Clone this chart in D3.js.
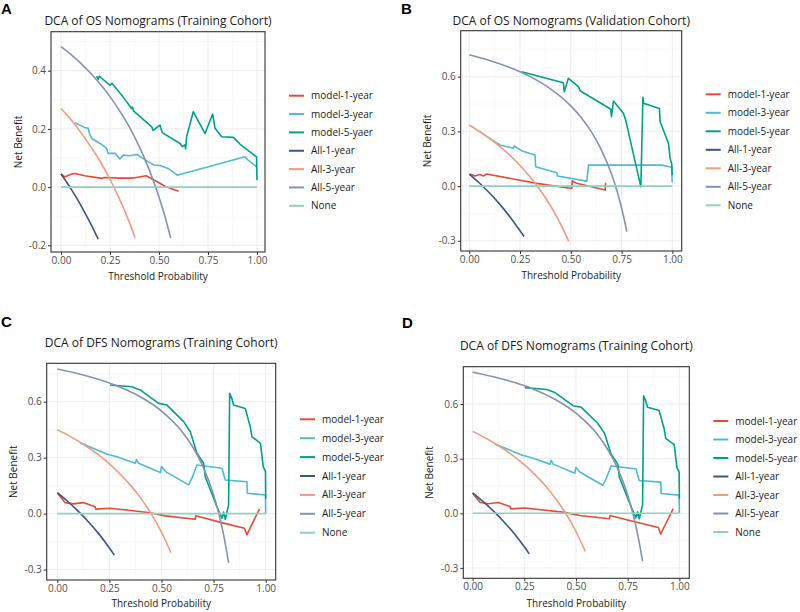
<!DOCTYPE html>
<html><head><meta charset="utf-8">
<script src="https://cdn.jsdelivr.net/npm/d3@7"></script>
<style>body{margin:0;background:#fff}svg{display:block;font-family:"Open Sans",sans-serif}</style>
</head><body><svg id="c" width="800" height="612"></svg>
<script>
// ---------- tick labels ----------
const xTickValues = [0, 0.25, 0.5, 0.75, 1];
const xTickLabels = ["0.00", "0.25", "0.50", "0.75", "1.00"];
const yTicksA = [-0.2, 0, 0.2, 0.4];
const yTickLabelsA = ["-0.2", "0.0", "0.2", "0.4"];
const yTicksBCD = [-0.3, 0, 0.3, 0.6];
const yTickLabelsBCD = ["-0.3", "0.0", "0.3", "0.6"];

// ---------- legend names ----------
const legendA = ["model-1-year", "model-3-year", "model-5-yaer", "All-1-year", "All-3-year", "All-5-year", "None"];
const legendBCD = ["model-1-year", "model-3-year", "model-5-year", "All-1-year", "All-3-year", "All-5-year", "None"];
const seriesColors = ["#E64B35", "#4DBBD5", "#00A087", "#3C5488", "#F39B7F", "#8491B4", "#91D1C2"];

// ---------- Panel A: OS, training cohort ----------
const osTrainModel1 = [[0,0.045],[0.02,0.035],[0.03,0.038],[0.055,0.045],[0.07,0.047],[0.12,0.039],[0.21,0.030],[0.22,0.033],[0.30,0.031],[0.37,0.031],[0.434,0.039],[0.47,0.026],[0.50,0.015],[0.53,0.003],[0.60,-0.014]];
const osTrainModel3 = [[0.071,0.221],[0.097,0.213],[0.12,0.205],[0.139,0.202],[0.145,0.185],[0.157,0.167],[0.199,0.150],[0.233,0.133],[0.24,0.116],[0.276,0.116],[0.30,0.097],[0.318,0.110],[0.35,0.108],[0.389,0.112],[0.437,0.090],[0.474,0.076],[0.505,0.074],[0.547,0.064],[0.593,0.041],[0.939,0.104],[0.95,0.095],[0.995,0.072],[1.0,0.066]];
const osTrainModel5 = [[0.182,0.381],[0.19,0.37],[0.195,0.381],[0.25,0.35],[0.26,0.357],[0.31,0.316],[0.36,0.27],[0.365,0.275],[0.37,0.262],[0.463,0.207],[0.47,0.195],[0.505,0.213],[0.517,0.187],[0.607,0.150],[0.62,0.139],[0.632,0.145],[0.636,0.131],[0.641,0.173],[0.675,0.259],[0.735,0.184],[0.774,0.251],[0.786,0.202],[0.82,0.173],[0.88,0.171],[0.913,0.148],[0.998,0.104],[1.0,0.024]];
const osTrainAll1 = [[0,0.045],[0.025,0.021],[0.05,-0.005],[0.075,-0.032],[0.10,-0.061],[0.125,-0.092],[0.15,-0.124],[0.175,-0.158],[0.19,-0.179]];
const osTrainAll3 = [[0,0.27],[0.05,0.232],[0.10,0.189],[0.15,0.141],[0.20,0.088],[0.25,0.027],[0.30,-0.043],[0.35,-0.123],[0.378,-0.174]];
const osTrainAll5 = [[0,0.483],[0.05,0.456],[0.10,0.426],[0.15,0.392],[0.20,0.354],[0.25,0.311],[0.30,0.261],[0.35,0.205],[0.40,0.138],[0.45,0.060],[0.50,-0.034],[0.53,-0.100],[0.56,-0.175]];
const osTrainNone = [[0,0],[1,0]];

// ---------- Panel B: OS, validation cohort ----------
const osValModel1 = [[0.003,0.066],[0.028,0.055],[0.053,0.064],[0.07,0.055],[0.086,0.066],[0.332,0.015],[0.505,-0.013],[0.507,0.029],[0.529,0.015],[0.669,-0.022],[0.671,0.018]];
const osValModel3 = [[0.05,0.30],[0.10,0.262],[0.151,0.225],[0.217,0.207],[0.222,0.220],[0.258,0.194],[0.299,0.179],[0.324,0.170],[0.327,0.106],[0.431,0.073],[0.434,0.055],[0.579,0.027],[0.587,0.115],[0.948,0.115],[0.997,0.103],[0.999,0.020]];
const osValModel5 = [[0.258,0.627],[0.463,0.567],[0.468,0.517],[0.488,0.591],[0.537,0.545],[0.546,0.523],[0.697,0.421],[0.70,0.380],[0.71,0.466],[0.759,0.399],[0.77,0.363],[0.845,-0.004],[0.855,0.487],[0.858,0.454],[0.936,0.426],[0.94,0.353],[0.981,0.234],[0.989,0.152],[0.997,0.12],[0.999,0.06]];
const osValAll1 = [[0,0.066],[0.05,0.017],[0.10,-0.038],[0.15,-0.099],[0.20,-0.168],[0.25,-0.245],[0.27,-0.276]];
const osValAll3 = [[0,0.335],[0.05,0.300],[0.10,0.261],[0.15,0.218],[0.20,0.169],[0.25,0.113],[0.30,0.050],[0.35,-0.023],[0.40,-0.108],[0.45,-0.209],[0.49,-0.304]];
const osValAll5 = [[0,0.72],[0.10,0.689],[0.20,0.65],[0.30,0.60],[0.40,0.533],[0.50,0.44],[0.55,0.378],[0.60,0.30],[0.65,0.20],[0.70,0.067],[0.73,-0.037],[0.76,-0.167],[0.776,-0.25]];
const osValNone = [[0,0],[1,0]];

// ---------- Panels C & D: DFS, training cohort ----------
const dfsModel1 = [[0,0.110],[0.037,0.059],[0.077,0.052],[0.125,0.059],[0.181,0.037],[0.185,0.024],[0.253,0.029],[0.446,0.005],[0.518,-0.012],[0.662,-0.030],[0.664,-0.012],[0.798,-0.051],[0.898,-0.078],[0.91,-0.114],[0.925,-0.078],[0.97,0.024]];
const dfsModel3 = [[0.109,0.38],[0.237,0.32],[0.286,0.305],[0.374,0.27],[0.38,0.29],[0.39,0.27],[0.494,0.22],[0.50,0.252],[0.52,0.225],[0.63,0.154],[0.646,0.19],[0.67,0.261],[0.79,0.243],[0.806,0.18],[0.91,0.171],[0.912,0.109],[0.999,0.100],[1.0,0.0]];
const dfsModel5 = [[0.253,0.69],[0.358,0.68],[0.398,0.663],[0.486,0.591],[0.526,0.582],[0.606,0.493],[0.638,0.439],[0.67,0.324],[0.702,0.27],[0.71,0.198],[0.766,0.037],[0.79,-0.025],[0.798,0.008],[0.806,-0.03],[0.822,0.047],[0.827,0.645],[0.838,0.615],[0.846,0.582],[0.902,0.564],[0.926,0.466],[0.934,0.412],[0.975,0.377],[0.988,0.252],[0.999,0.225],[1.0,0.08]];
const dfsAll1 = [[0,0.112],[0.05,0.065],[0.10,0.013],[0.15,-0.045],[0.20,-0.110],[0.25,-0.184],[0.274,-0.223]];
const dfsAll3 = [[0,0.45],[0.05,0.421],[0.10,0.389],[0.15,0.353],[0.20,0.313],[0.25,0.267],[0.30,0.214],[0.35,0.154],[0.40,0.083],[0.45,0.0],[0.50,-0.10],[0.545,-0.209]];
const dfsAll5 = [[0,0.775],[0.10,0.75],[0.20,0.719],[0.30,0.679],[0.40,0.625],[0.50,0.55],[0.60,0.438],[0.65,0.357],[0.70,0.25],[0.75,0.10],[0.78,-0.023],[0.80,-0.125],[0.822,-0.264]];
const dfsNone = [[0,0],[1,0]];

// ---------- layout ----------
const panels = [
  {label:"A", title:"DCA of OS Nomograms (Training Cohort)", box:[51,31.7,265,252], xDom:[-0.051,1.041], yDom:[-0.223,0.534],
   yTicks:yTicksA, yLabels:yTickLabelsA, names:legendA, leg:[289,95.7,18.35], labelPos:[1,14], titleY:25, xtY:280, ytX:18,
   series:[osTrainModel1,osTrainModel3,osTrainModel5,osTrainAll1,osTrainAll3,osTrainAll5,osTrainNone]},
  {label:"B", title:"DCA of OS Nomograms (Validation Cohort)", box:[460.7,30.7,681.7,251], xDom:[-0.042,1.046], yDom:[-0.356,0.852],
   yTicks:yTicksBCD, yLabels:yTickLabelsBCD, names:legendBCD, leg:[705.7,94.3,18.5], labelPos:[401,14], titleY:25, xtY:279, ytX:427,
   series:[osValModel1,osValModel3,osValModel5,osValAll1,osValAll3,osValAll5,osValNone]},
  {label:"C", title:"DCA of DFS Nomograms (Training Cohort)", box:[46.7,363.3,275.7,580], xDom:[-0.051,1.048], yDom:[-0.356,0.806],
   yTicks:yTicksBCD, yLabels:yTickLabelsBCD, names:legendBCD, leg:[300,419.3,18.9], labelPos:[1,327], titleY:347, xtY:607, ytX:13,
   series:[dfsModel1,dfsModel3,dfsModel5,dfsAll1,dfsAll3,dfsAll5,dfsNone]},
  {label:"D", title:"DCA of DFS Nomograms (Training Cohort)", box:[463.3,366.7,689.3,578.3], xDom:[-0.045,1.048], yDom:[-0.357,0.805],
   yTicks:yTicksBCD, yLabels:yTickLabelsBCD, names:legendBCD, leg:[713.3,421,18.5], labelPos:[402,328], titleY:350, xtY:607, ytX:429,
   series:[dfsModel1,dfsModel3,dfsModel5,dfsAll1,dfsAll3,dfsAll5,dfsNone]}
];

const svg = d3.select("#c");

panels.forEach(p => {
  const [x0,y0,x1,y1] = p.box;
  const x = d3.scaleLinear().domain(p.xDom).range([x0,x1]);
  const y = d3.scaleLinear().domain(p.yDom).range([y1,y0]);
  const g = svg.append("g");

  // grid
  const clipId = "clip" + p.label;
  svg.append("clipPath").attr("id", clipId).append("rect").attr("x",x0).attr("y",y0).attr("width",x1-x0).attr("height",y1-y0);
  const grid = g.append("g").attr("clip-path",`url(#${clipId})`);
  const xMinor = xTickValues.slice(0,-1).map((v,i)=>(v+xTickValues[i+1])/2).concat([-0.125,1.125]);
  const yStep = p.yTicks[1]-p.yTicks[0];
  const yMinor = p.yTicks.map(v=>v+yStep/2).concat([p.yTicks[0]-yStep/2]);
  grid.selectAll(".xm").data(xMinor).join("line").attr("x1",d=>x(d)).attr("x2",d=>x(d)).attr("y1",y0).attr("y2",y1).attr("stroke","#f2f2f2").attr("stroke-width",0.5);
  grid.selectAll(".ym").data(yMinor).join("line").attr("y1",d=>y(d)).attr("y2",d=>y(d)).attr("x1",x0).attr("x2",x1).attr("stroke","#f2f2f2").attr("stroke-width",0.5);
  grid.selectAll(".xg").data(xTickValues).join("line").attr("x1",d=>x(d)).attr("x2",d=>x(d)).attr("y1",y0).attr("y2",y1).attr("stroke","#ebebeb").attr("stroke-width",0.9);
  grid.selectAll(".yg").data(p.yTicks).join("line").attr("y1",d=>y(d)).attr("y2",d=>y(d)).attr("x1",x0).attr("x2",x1).attr("stroke","#ebebeb").attr("stroke-width",0.9);

  // series
  const line = d3.line().x(d=>x(d[0])).y(d=>y(d[1]));
  const smooth = d3.line().x(d=>x(d[0])).y(d=>y(d[1])).curve(d3.curveMonotoneX);
  p.series.forEach((s,i) => {
    g.append("path").datum(s).attr("d", (i>=3 && i<=5) ? smooth : line)
      .attr("fill","none").attr("stroke",seriesColors[i]).attr("stroke-width",1.6)
      .attr("stroke-linejoin","round");
  });

  // axes
  const xa = d3.axisBottom(x).tickValues(xTickValues).tickFormat((d,i)=>xTickLabels[i]).tickSize(3).tickPadding(2);
  const ya = d3.axisLeft(y).tickValues(p.yTicks).tickFormat((d,i)=>p.yLabels[i]).tickSize(3).tickPadding(2);
  const gx = g.append("g").attr("transform",`translate(0,${y1})`).call(xa);
  const gy = g.append("g").attr("transform",`translate(${x0},0)`).call(ya);
  [gx,gy].forEach(a=>{
    a.select(".domain").remove();
    a.selectAll(".tick line").attr("stroke","#333").attr("stroke-width",1);
    a.selectAll(".tick text").attr("fill","#4d4d4d").style("font-size","10px").style("font-family","'Open Sans',sans-serif");
  });

  // border
  g.append("rect").attr("x",x0).attr("y",y0).attr("width",x1-x0).attr("height",y1-y0)
    .attr("fill","none").attr("stroke","#333").attr("stroke-width",1.1);

  // titles
  g.append("text").attr("x",(x0+x1)/2).attr("y",p.titleY).attr("text-anchor","middle")
    .style("font-size","12px").attr("fill","#1a1a1a").text(p.title);
  g.append("text").attr("x",(x0+x1)/2).attr("y",p.xtY).attr("text-anchor","middle")
    .style("font-size","10px").attr("fill","#1a1a1a").text("Threshold Probability");
  g.append("text").attr("transform",`translate(${p.ytX+3.5},${(y0+y1)/2}) rotate(-90)`).attr("text-anchor","middle")
    .style("font-size","10px").attr("fill","#1a1a1a").text("Net Benefit");
  g.append("text").attr("x",p.labelPos[0]).attr("y",p.labelPos[1])
    .style("font-size","15px").style("font-weight","bold").style("font-family","Arial, 'Liberation Sans', sans-serif").attr("fill","#000").text(p.label);

  // legend
  const [lx,ly,ldy] = p.leg;
  const lg = g.append("g");
  p.names.forEach((n,i)=>{
    const yy = ly + i*ldy;
    lg.append("line").attr("x1",lx).attr("x2",lx+15).attr("y1",yy).attr("y2",yy)
      .attr("stroke",seriesColors[i]).attr("stroke-width",2);
    lg.append("text").attr("x",lx+22).attr("y",yy).attr("dy","0.35em")
      .style("font-size","10px").attr("fill","#1a1a1a").text(n);
  });
});
</script></body></html>
